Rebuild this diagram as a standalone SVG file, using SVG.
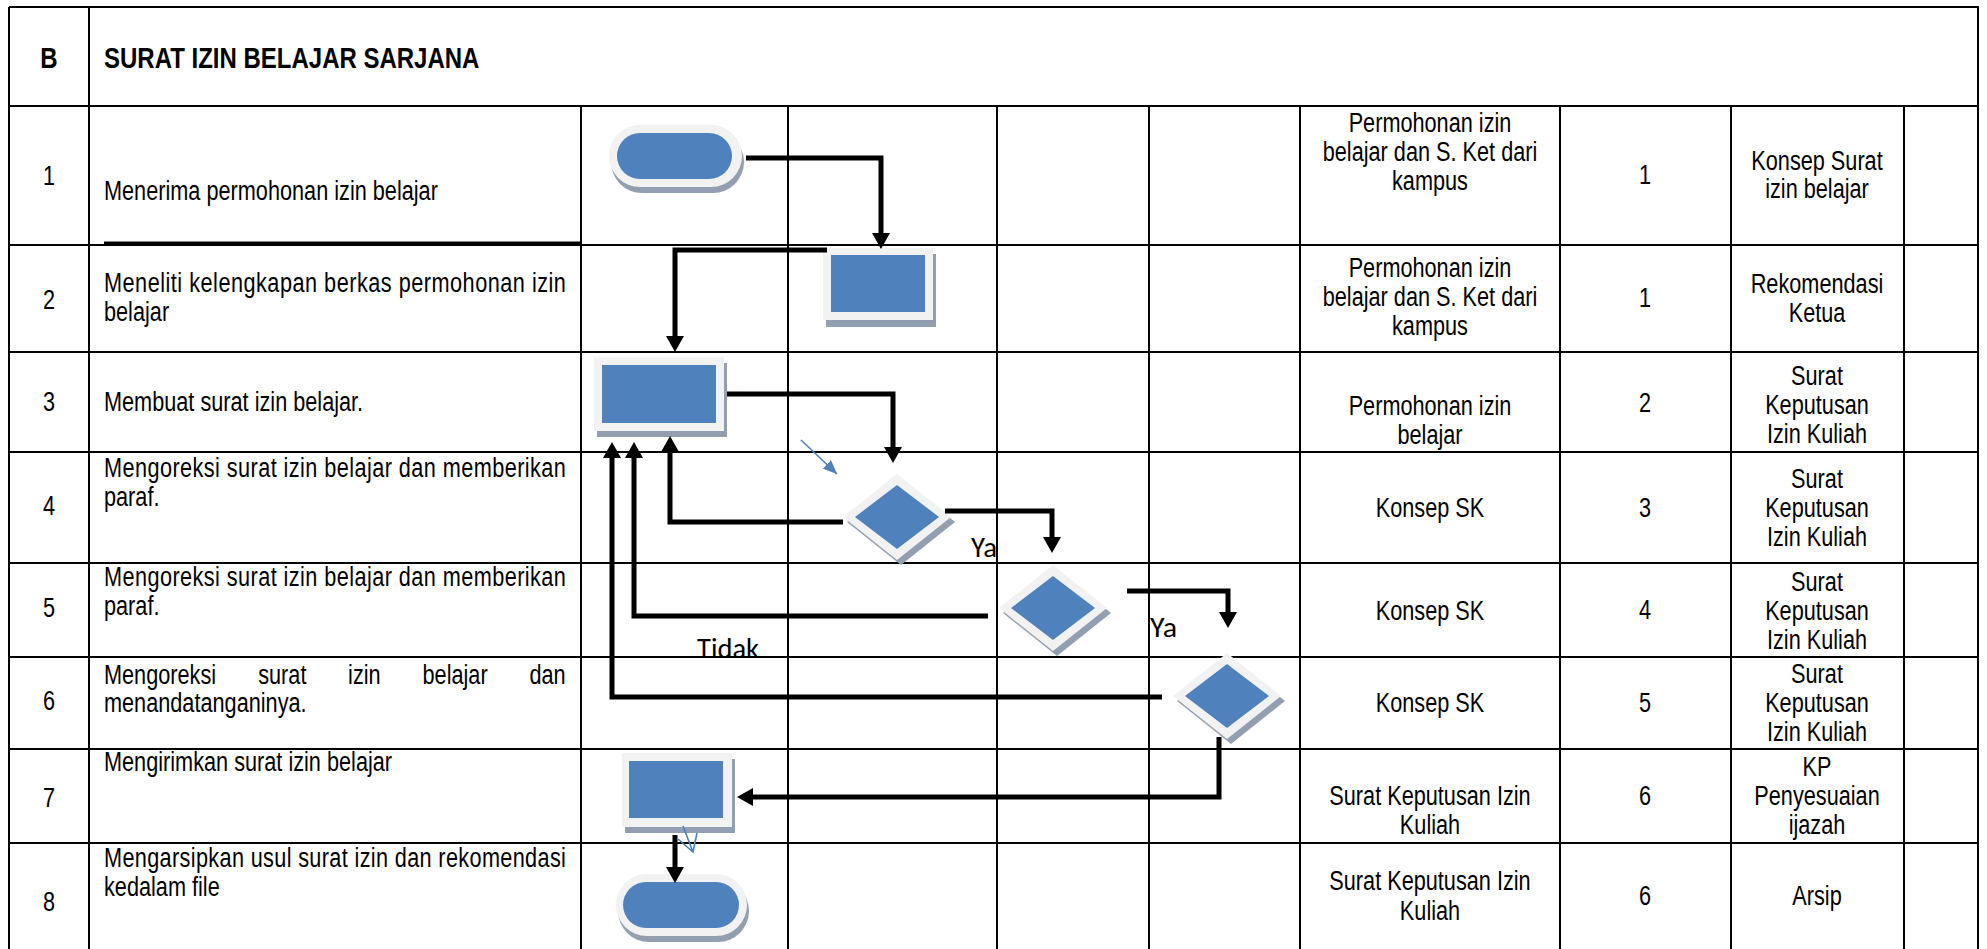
<svg xmlns="http://www.w3.org/2000/svg" width="1987" height="949" viewBox="0 0 1987 949">
<style>
.t{font-family:"Liberation Sans",Arial,sans-serif;font-size:28px;fill:#000}
.b{font-weight:bold;font-size:30px}
.c{text-anchor:middle}
.lbl{font-family:Carlito,Lato,"Liberation Sans",sans-serif;font-size:28px;fill:#000}
.grid line{stroke:#000;stroke-width:2}
.sh{fill:#929FB1}.bd{fill:#F2F2F2}.bl{fill:#4F81BD}
.conn{fill:none;stroke:#000;stroke-width:5;marker-end:url(#ah)}
.thin{fill:none;stroke:#4F81BD;stroke-width:1.6}
</style>
<defs>
<marker id="ah" markerUnits="userSpaceOnUse" markerWidth="16" markerHeight="18" viewBox="0 0 16 18" refX="8" refY="9" orient="auto"><path d="M0,0 L16,9 L0,18 z" fill="#000"/></marker>
<marker id="bh" markerUnits="userSpaceOnUse" markerWidth="14" markerHeight="12" viewBox="0 0 14 12" refX="14" refY="6" orient="auto"><path d="M0,0 L14,6 L0,12 z" fill="#4F81BD"/></marker>
</defs>
<rect width="1987" height="949" fill="#fff"/>
<g id="table" class="grid">
<line x1="9" y1="7" x2="1979" y2="7"/>
<line x1="9" y1="106" x2="1979" y2="106"/>
<line x1="9" y1="245" x2="1979" y2="245"/>
<line x1="104" y1="243" x2="581" y2="243" style="stroke-width:3"/>
<line x1="9" y1="352" x2="1979" y2="352"/>
<line x1="9" y1="452" x2="1979" y2="452"/>
<line x1="9" y1="563" x2="1979" y2="563"/>
<line x1="9" y1="657" x2="1979" y2="657"/>
<line x1="9" y1="749" x2="1979" y2="749"/>
<line x1="9" y1="843" x2="1979" y2="843"/>
<line x1="9" y1="7" x2="9" y2="949"/>
<line x1="89" y1="7" x2="89" y2="949"/>
<line x1="1978" y1="7" x2="1978" y2="949"/>
<line x1="581" y1="106" x2="581" y2="949"/>
<line x1="788" y1="106" x2="788" y2="949"/>
<line x1="997" y1="106" x2="997" y2="949"/>
<line x1="1149" y1="106" x2="1149" y2="949"/>
<line x1="1300" y1="106" x2="1300" y2="949"/>
<line x1="1560" y1="106" x2="1560" y2="949"/>
<line x1="1731" y1="106" x2="1731" y2="949"/>
<line x1="1904" y1="106" x2="1904" y2="949"/>
</g>
<g id="header">
<text class="t b c" transform="matrix(.8 0 0 1 49 68)">B</text>
<text class="t b" transform="matrix(.8 0 0 1 104 68)">SURAT IZIN BELAJAR SARJANA</text>
</g>
<g id="numbers">
<text class="t c" transform="matrix(.775 0 0 1 49 185)">1</text>
<text class="t c" transform="matrix(.775 0 0 1 49 309)">2</text>
<text class="t c" transform="matrix(.775 0 0 1 49 411)">3</text>
<text class="t c" transform="matrix(.775 0 0 1 49 515)">4</text>
<text class="t c" transform="matrix(.775 0 0 1 49 617)">5</text>
<text class="t c" transform="matrix(.775 0 0 1 49 710)">6</text>
<text class="t c" transform="matrix(.775 0 0 1 49 807)">7</text>
<text class="t c" transform="matrix(.775 0 0 1 49 911)">8</text>
</g>
<g id="activities">
<text class="t" transform="matrix(.775 0 0 1 104 200)">Menerima permohonan izin belajar</text>
<text class="t" transform="matrix(.775 0 0 1 104 292)" textLength="596" lengthAdjust="spacing">Meneliti kelengkapan berkas permohonan izin</text>
<text class="t" transform="matrix(.775 0 0 1 104 321)">belajar</text>
<text class="t" transform="matrix(.775 0 0 1 104 411)">Membuat surat izin belajar.</text>
<text class="t" transform="matrix(.775 0 0 1 104 477)" textLength="596" lengthAdjust="spacing">Mengoreksi surat izin belajar dan memberikan</text>
<text class="t" transform="matrix(.775 0 0 1 104 506)">paraf.</text>
<text class="t" transform="matrix(.775 0 0 1 104 586)" textLength="596" lengthAdjust="spacing">Mengoreksi surat izin belajar dan memberikan</text>
<text class="t" transform="matrix(.775 0 0 1 104 615)">paraf.</text>
<text class="t" transform="matrix(.775 0 0 1 104 684)"><tspan x="0">Mengoreksi</tspan> <tspan x="199">surat</tspan> <tspan x="315">izin</tspan> <tspan x="411">belajar</tspan> <tspan x="549">dan</tspan></text>
<text class="t" transform="matrix(.775 0 0 1 104 712)">menandatanganinya.</text>
<text class="t" transform="matrix(.775 0 0 1 104 771)">Mengirimkan surat izin belajar</text>
<text class="t" transform="matrix(.775 0 0 1 104 867)" textLength="596" lengthAdjust="spacing">Mengarsipkan usul surat izin dan rekomendasi</text>
<text class="t" transform="matrix(.775 0 0 1 104 896)">kedalam file</text>
</g>
<g id="inputs">
<text class="t c" transform="matrix(.775 0 0 1 1430 132)">Permohonan izin</text>
<text class="t c" transform="matrix(.775 0 0 1 1430 161)">belajar dan S. Ket dari</text>
<text class="t c" transform="matrix(.775 0 0 1 1430 190)">kampus</text>
<text class="t c" transform="matrix(.775 0 0 1 1430 277)">Permohonan izin</text>
<text class="t c" transform="matrix(.775 0 0 1 1430 306)">belajar dan S. Ket dari</text>
<text class="t c" transform="matrix(.775 0 0 1 1430 335)">kampus</text>
<text class="t c" transform="matrix(.775 0 0 1 1430 415)">Permohonan izin</text>
<text class="t c" transform="matrix(.775 0 0 1 1430 444)">belajar</text>
<text class="t c" transform="matrix(.775 0 0 1 1430 517)">Konsep SK</text>
<text class="t c" transform="matrix(.775 0 0 1 1430 620)">Konsep SK</text>
<text class="t c" transform="matrix(.775 0 0 1 1430 712)">Konsep SK</text>
<text class="t c" transform="matrix(.775 0 0 1 1430 805)">Surat Keputusan Izin</text>
<text class="t c" transform="matrix(.775 0 0 1 1430 834)">Kuliah</text>
<text class="t c" transform="matrix(.775 0 0 1 1430 890)">Surat Keputusan Izin</text>
<text class="t c" transform="matrix(.775 0 0 1 1430 920)">Kuliah</text>
</g>
<g id="times">
<text class="t c" transform="matrix(.775 0 0 1 1645 184)">1</text>
<text class="t c" transform="matrix(.775 0 0 1 1645 307)">1</text>
<text class="t c" transform="matrix(.775 0 0 1 1645 412)">2</text>
<text class="t c" transform="matrix(.775 0 0 1 1645 517)">3</text>
<text class="t c" transform="matrix(.775 0 0 1 1645 619)">4</text>
<text class="t c" transform="matrix(.775 0 0 1 1645 712)">5</text>
<text class="t c" transform="matrix(.775 0 0 1 1645 805)">6</text>
<text class="t c" transform="matrix(.775 0 0 1 1645 905)">6</text>
</g>
<g id="outputs">
<text class="t c" transform="matrix(.775 0 0 1 1817 170)">Konsep Surat</text>
<text class="t c" transform="matrix(.775 0 0 1 1817 198)">izin belajar</text>
<text class="t c" transform="matrix(.775 0 0 1 1817 293)">Rekomendasi</text>
<text class="t c" transform="matrix(.775 0 0 1 1817 322)">Ketua</text>
<text class="t c" transform="matrix(.775 0 0 1 1817 385)">Surat</text>
<text class="t c" transform="matrix(.775 0 0 1 1817 414)">Keputusan</text>
<text class="t c" transform="matrix(.775 0 0 1 1817 443)">Izin Kuliah</text>
<text class="t c" transform="matrix(.775 0 0 1 1817 488)">Surat</text>
<text class="t c" transform="matrix(.775 0 0 1 1817 517)">Keputusan</text>
<text class="t c" transform="matrix(.775 0 0 1 1817 546)">Izin Kuliah</text>
<text class="t c" transform="matrix(.775 0 0 1 1817 591)">Surat</text>
<text class="t c" transform="matrix(.775 0 0 1 1817 620)">Keputusan</text>
<text class="t c" transform="matrix(.775 0 0 1 1817 649)">Izin Kuliah</text>
<text class="t c" transform="matrix(.775 0 0 1 1817 683)">Surat</text>
<text class="t c" transform="matrix(.775 0 0 1 1817 712)">Keputusan</text>
<text class="t c" transform="matrix(.775 0 0 1 1817 741)">Izin Kuliah</text>
<text class="t c" transform="matrix(.775 0 0 1 1817 776)">KP</text>
<text class="t c" transform="matrix(.775 0 0 1 1817 805)">Penyesuaian</text>
<text class="t c" transform="matrix(.775 0 0 1 1817 834)">ijazah</text>
<text class="t c" transform="matrix(.775 0 0 1 1817 905)">Arsip</text>
</g>
<g id="start">
<rect class="sh" x="611" y="131" width="133" height="62" rx="31"/>
<rect class="bd" x="609" y="125" width="133" height="62" rx="31"/>
<rect class="bl" x="617" y="133" width="115" height="46" rx="23"/>
</g>
<g id="step2">
<rect class="sh" x="826" y="254" width="110" height="73"/>
<rect class="bd" x="823" y="248" width="110" height="72"/>
<rect class="bl" x="831" y="255" width="94" height="57"/>
</g>
<g id="step3">
<rect class="sh" x="597" y="363" width="130" height="74"/>
<rect class="bd" x="594" y="357" width="130" height="74"/>
<rect class="bl" x="602" y="365" width="114" height="58"/>
</g>
<g id="decision4">
<polygon class="sh" points="901,479 955,522 901,565 847,522"/>
<polygon class="bd" points="897,474 951,517 897,560 843,517"/>
<polygon class="bl" points="897,485 939,517 897,549 855,517"/>
</g>
<g id="decision5">
<polygon class="sh" points="1057,570 1111,613 1057,656 1003,613"/>
<polygon class="bd" points="1053,565 1107,608 1053,651 999,608"/>
<polygon class="bl" points="1053,576 1095,608 1053,640 1011,608"/>
</g>
<g id="decision6">
<polygon class="sh" points="1231,658 1285,701 1231,744 1177,701"/>
<polygon class="bd" points="1227,653 1281,696 1227,739 1173,696"/>
<polygon class="bl" points="1227,664 1269,696 1227,728 1185,696"/>
</g>
<g id="step7">
<rect class="sh" x="625" y="759" width="110" height="74"/>
<rect class="bd" x="622" y="753" width="110" height="74"/>
<rect class="bl" x="629" y="761" width="94" height="57"/>
</g>
<g id="end">
<rect class="sh" x="618" y="880" width="131" height="62" rx="31"/>
<rect class="bd" x="616" y="874" width="131" height="62" rx="31"/>
<rect class="bl" x="623" y="882" width="116" height="46" rx="23"/>
</g>
<g id="connectors">
<path class="conn" d="M746,158 H881 V241"/>
<path class="conn" d="M827,250 H675 V344"/>
<path class="conn" d="M727,394 H893 V455"/>
<path class="conn" d="M843,522 H670 V444"/>
<path class="conn" d="M945,511 H1052 V545"/>
<path class="conn" d="M988,616 H634 V450"/>
<path class="conn" d="M1127,591 H1228 V620"/>
<path class="conn" d="M1162,697 H612 V450"/>
<path class="conn" d="M1219,737 V797 H745"/>
<path class="conn" d="M675,835 V875"/>
<path class="thin" d="M801,440 L837,474" marker-end="url(#bh)"/>
<path class="thin" d="M683,826 L693,852 M678,839 L693,852 L697,833"/>
<text class="lbl" x="971" y="557" textLength="26" lengthAdjust="spacingAndGlyphs">Ya</text>
<text class="lbl" x="1150" y="637" textLength="27" lengthAdjust="spacingAndGlyphs">Ya</text>
<text class="lbl" x="697" y="658" textLength="62" lengthAdjust="spacingAndGlyphs">Tidak</text>
</g>
</svg>
